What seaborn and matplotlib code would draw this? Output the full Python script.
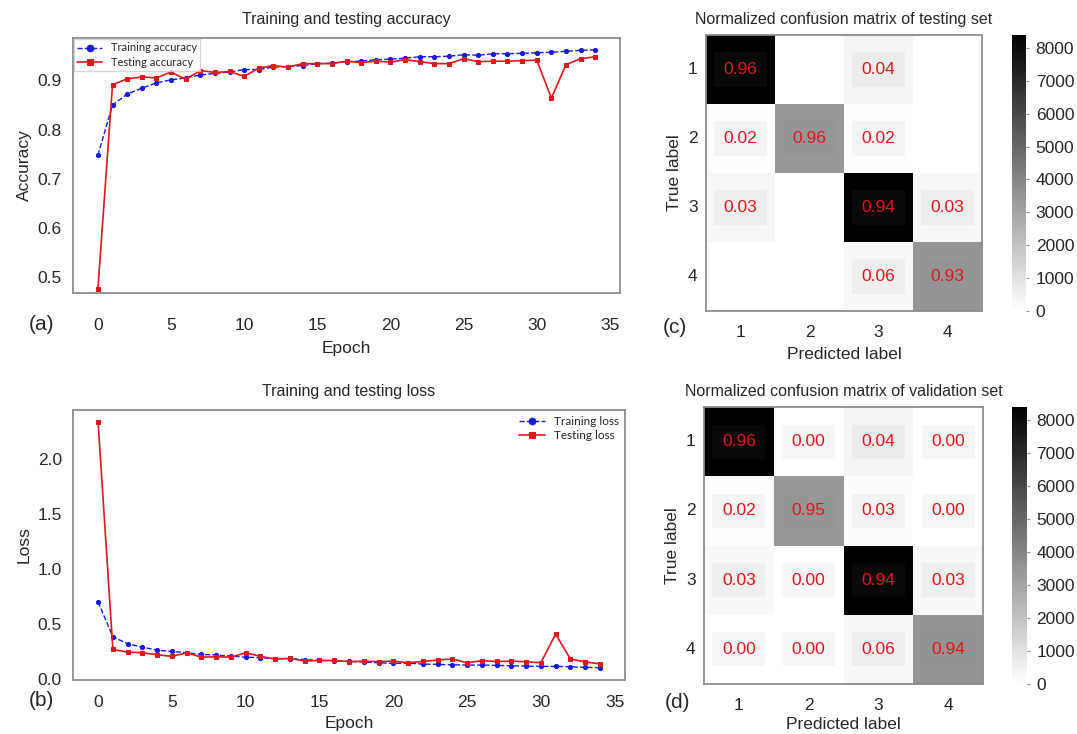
import numpy as np
import matplotlib
matplotlib.use("Agg")
import matplotlib.pyplot as plt
import seaborn as sns

# ---- data ----
epochs = list(range(35))

train_acc = [0.748, 0.850, 0.872, 0.884, 0.895, 0.901, 0.905, 0.911, 0.914, 0.917,
             0.922, 0.922, 0.927, 0.928, 0.930, 0.934, 0.935, 0.938, 0.939, 0.942,
             0.943, 0.945, 0.948, 0.948, 0.949, 0.952, 0.951, 0.954, 0.954, 0.955,
             0.956, 0.957, 0.959, 0.961, 0.962]
test_acc = [0.476, 0.891, 0.903, 0.907, 0.905, 0.917, 0.902, 0.920, 0.916, 0.918,
            0.908, 0.925, 0.930, 0.927, 0.934, 0.934, 0.934, 0.939, 0.936, 0.939,
            0.937, 0.942, 0.938, 0.934, 0.934, 0.944, 0.938, 0.939, 0.939, 0.940,
            0.941, 0.864, 0.932, 0.944, 0.948]

train_loss = [0.700, 0.382, 0.318, 0.287, 0.260, 0.248, 0.236, 0.221, 0.215, 0.206,
              0.196, 0.191, 0.182, 0.182, 0.173, 0.166, 0.164, 0.157, 0.152, 0.145,
              0.139, 0.142, 0.133, 0.130, 0.127, 0.124, 0.124, 0.121, 0.118, 0.115,
              0.112, 0.112, 0.109, 0.103, 0.100]
test_loss = [2.336, 0.266, 0.242, 0.236, 0.218, 0.203, 0.236, 0.196, 0.200, 0.196,
             0.236, 0.203, 0.180, 0.185, 0.160, 0.166, 0.166, 0.155, 0.160, 0.155,
             0.160, 0.145, 0.157, 0.170, 0.180, 0.145, 0.164, 0.157, 0.160, 0.155,
             0.145, 0.406, 0.180, 0.152, 0.136]

class_labels = ["1", "2", "3", "4"]

# normalized values (annotations)
test_norm = [[0.96, 0.00, 0.04, 0.00],
             [0.02, 0.96, 0.02, 0.00],
             [0.03, 0.00, 0.94, 0.03],
             [0.00, 0.00, 0.06, 0.93]]
val_norm = [[0.96, 0.00, 0.04, 0.00],
            [0.02, 0.95, 0.03, 0.00],
            [0.03, 0.00, 0.94, 0.03],
            [0.00, 0.00, 0.06, 0.94]]

# raw counts (cell shading)
test_counts = [[8380, 0, 350, 0],
               [70, 3400, 70, 0],
               [265, 0, 8390, 265],
               [0, 0, 230, 3450]]
val_counts = [[8370, 5, 340, 5],
              [70, 3380, 100, 5],
              [260, 5, 8380, 260],
              [5, 5, 230, 3480]]
count_max = 8390
cbar_ticks = [0, 1000, 2000, 3000, 4000, 5000, 6000, 7000, 8000]

sns.set_style("white")
plt.rcParams['font.family'] = ['Liberation Sans', 'DejaVu Sans']

RED = "#e0161e"
BLUE = "#1a1adf"
EDGE = "#8c8c8c"

fig = plt.figure(figsize=(10.77, 7.34), dpi=100)


def style_line_axes(ax, ylabel, title):
    for s in ax.spines.values():
        s.set_color(EDGE)
        s.set_linewidth(1.3)
    ax.tick_params(axis='x', length=4, width=1, color=EDGE, pad=14, labelsize=12.5)
    ax.tick_params(axis='y', length=0, pad=8, labelsize=12.5)
    ax.set_xticks([0, 5, 10, 15, 20, 25, 30, 35])
    ax.set_xlabel("Epoch", fontsize=12.5, labelpad=6)
    ax.set_ylabel(ylabel, fontsize=12.5, labelpad=4)
    ax.set_title(title, fontsize=11.5, pad=10)


# (a) accuracy
ax1 = fig.add_axes([0.0678, 0.6008, 0.508, 0.3474])
sns.lineplot(x=epochs, y=train_acc, ax=ax1, color=BLUE, linestyle='--', linewidth=1.0,
             marker='o', markersize=3, markeredgecolor=BLUE, label='Training accuracy')
sns.lineplot(x=epochs, y=test_acc, ax=ax1, color=RED, linestyle='-', linewidth=1.2,
             marker='s', markersize=3, markeredgecolor=RED, label='Testing accuracy')
ax1.set_xlim(-1.7, 35.7)
ax1.set_ylim(0.468, 0.986)
ax1.set_yticks([0.5, 0.6, 0.7, 0.8, 0.9])
style_line_axes(ax1, "Accuracy", "Training and testing accuracy")
leg = ax1.legend(loc='upper left', borderaxespad=0.1, prop={'family': 'Lato', 'size': 8},
                 markerscale=1.6, handlelength=2.2, frameon=True, fancybox=False,
                 borderpad=0.3, labelspacing=0.3)
leg.get_frame().set_edgecolor("#cccccc")

# (b) loss
ax2 = fig.add_axes([0.0678, 0.0736, 0.5125, 0.3678])
sns.lineplot(x=epochs, y=train_loss, ax=ax2, color=BLUE, linestyle='--', linewidth=1.0,
             marker='o', markersize=3, markeredgecolor=BLUE, label='Training loss')
sns.lineplot(x=epochs, y=test_loss, ax=ax2, color=RED, linestyle='-', linewidth=1.2,
             marker='s', markersize=3, markeredgecolor=RED, label='Testing loss')
ax2.set_xlim(-1.7, 35.7)
ax2.set_yticks([0.0, 0.5, 1.0, 1.5, 2.0])
style_line_axes(ax2, "Loss", "Training and testing loss")
ax2.tick_params(axis='x', pad=7)
ax2.set_xlabel("Epoch", fontsize=12.5, labelpad=4)
ax2.legend(loc='upper right', borderaxespad=0.1, prop={'family': 'Lato', 'size': 8.5},
           markerscale=1.6, handlelength=2.2, frameon=False, labelspacing=0.3)


def confusion(ax, cax, counts, norm, title, hide_zero):
    labels = []
    for row in norm:
        labels.append(["" if (hide_zero and v == 0) else "%.2f" % v for v in row])
    sns.heatmap(np.array(counts), ax=ax, cbar_ax=cax, cmap='gray_r', vmin=0, vmax=count_max,
                annot=np.array(labels), fmt='', xticklabels=class_labels,
                yticklabels=class_labels,
                annot_kws={'color': RED, 'fontsize': 12.5,
                           'bbox': dict(boxstyle='square,pad=0.55',
                                        facecolor=(0.5, 0.5, 0.5, 0.07),
                                        edgecolor='none')},
                cbar_kws={'ticks': cbar_ticks})
    for s in ax.spines.values():
        s.set_visible(True)
        s.set_color(EDGE)
        s.set_linewidth(1.3)
    ax.tick_params(axis='both', length=0, labelsize=12.5)
    ax.tick_params(axis='x', pad=10)
    ax.tick_params(axis='y', pad=6, rotation=0)
    ax.set_xlabel("Predicted label", fontsize=12.5, labelpad=5)
    ax.set_ylabel("True label", fontsize=12.5, labelpad=4)
    ax.set_title(title, fontsize=11.5, pad=8)
    cax.tick_params(labelsize=12.5, length=2, color=EDGE, pad=5)
    for s in cax.spines.values():
        s.set_color(EDGE)


# (c) testing set confusion matrix
ax3 = fig.add_axes([0.6555, 0.5763, 0.2563, 0.376])
cax3 = fig.add_axes([0.9396, 0.5763, 0.013, 0.376])
confusion(ax3, cax3, test_counts, test_norm, "Normalized confusion matrix of testing set", True)

# (d) validation set confusion matrix
ax4 = fig.add_axes([0.6537, 0.0681, 0.259, 0.3774])
cax4 = fig.add_axes([0.9396, 0.0681, 0.0136, 0.3774])
confusion(ax4, cax4, val_counts, val_norm, "Normalized confusion matrix of validation set", False)
ax4.set_xlabel("Predicted label", fontsize=12.5, labelpad=3)

# panel letters
fig.text(41 / 1077, 1 - 325 / 734, "(a)", fontsize=15, ha='center', va='center')
fig.text(41 / 1077, 1 - 700 / 734, "(b)", fontsize=15, ha='center', va='center')
fig.text(675 / 1077, 1 - 328 / 734, "(c)", fontsize=15, ha='center', va='center')
fig.text(677 / 1077, 1 - 702 / 734, "(d)", fontsize=15, ha='center', va='center')

fig.savefig("out.png", dpi=100)
